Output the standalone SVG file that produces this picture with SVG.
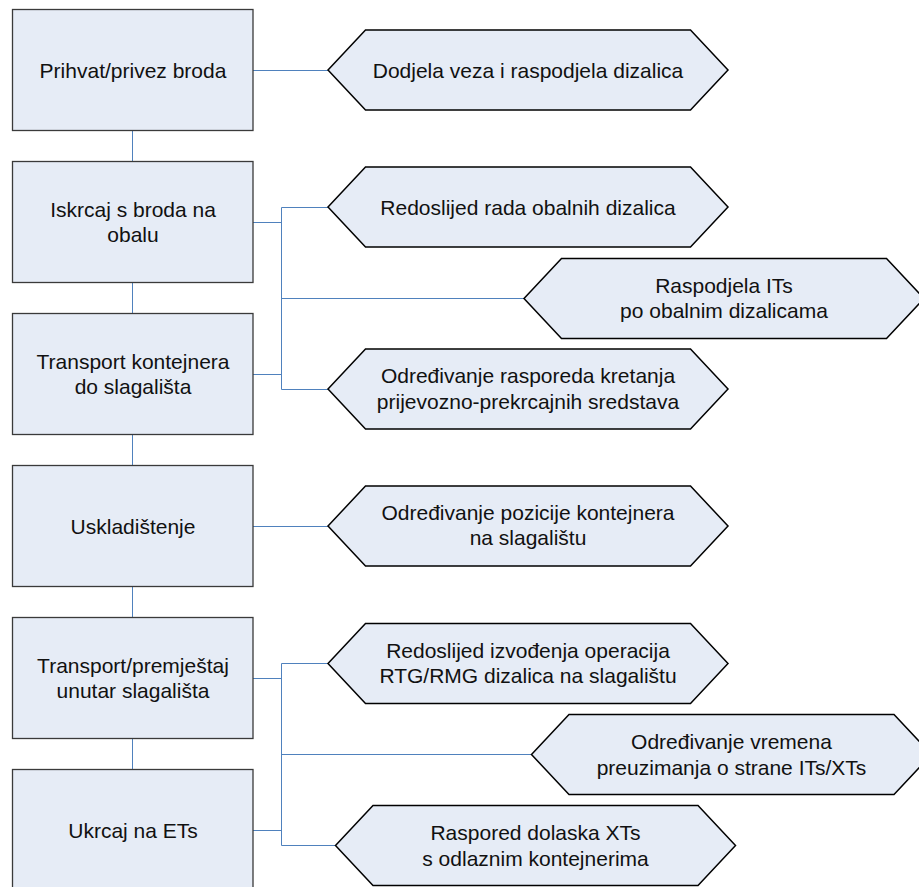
<svg xmlns="http://www.w3.org/2000/svg" xmlns:xlink="http://www.w3.org/1999/xlink" width="919" height="887" viewBox="0 0 919 887">
  <style>
    .box { fill: #E6ECF6; stroke: #3a3a3a; stroke-width: 1.3; }
    .hex { fill: #E6ECF6; stroke: #000000; stroke-width: 1.5; stroke-linejoin: miter; }
    .lbl { font-family: "Liberation Sans", Arial, sans-serif; font-size: 21px; fill: #111111; text-anchor: middle; }
    .conn { fill: none; stroke: #4F81BD; stroke-width: 1; }
  </style>
  <defs>
    <polygon id="hexShape" points="0,40 37.5,0 362.5,0 400,40 362.5,80 37.5,80"/>
  </defs>

  <!-- connectors -->
  <g id="connectors" class="conn">
    <path d="M253,70.5 H328"/>
    <path d="M132.5,131 V161.5 M132.5,283 V313.5 M132.5,435 V465.5 M132.5,587 V617.5 M132.5,739 V769.5"/>
    <path d="M253,222.5 H281.5 M253,374.5 H281.5 M281.5,207.5 V389.5 M281.5,207.5 H328 M281.5,298.5 H524 M281.5,389.5 H328"/>
    <path d="M253,526.5 H328"/>
    <path d="M253,678.5 H281.5 M253,830.5 H281.5 M281.5,663.5 V845.5 M281.5,663.5 H328 M281.5,754.5 H531.5 M281.5,845.5 H335.5"/>
  </g>

  <!-- process steps -->
  <g id="step1">
    <rect class="box" x="12.5" y="9.5" width="240.5" height="121"/>
    <text class="lbl" x="133" y="77.5">Prihvat/privez broda</text>
  </g>
  <g id="step2">
    <rect class="box" x="12.5" y="161.5" width="240.5" height="121"/>
    <text class="lbl" x="133" y="216.7">Iskrcaj s broda na</text>
    <text class="lbl" x="133" y="242.4">obalu</text>
  </g>
  <g id="step3">
    <rect class="box" x="12.5" y="313.5" width="240.5" height="121"/>
    <text class="lbl" x="133" y="368.7">Transport kontejnera</text>
    <text class="lbl" x="133" y="394.4">do slagališta</text>
  </g>
  <g id="step4">
    <rect class="box" x="12.5" y="465.5" width="240.5" height="121"/>
    <text class="lbl" x="133" y="533.5">Uskladištenje</text>
  </g>
  <g id="step5">
    <rect class="box" x="12.5" y="617.5" width="240.5" height="121"/>
    <text class="lbl" x="133" y="672.7">Transport/premještaj</text>
    <text class="lbl" x="133" y="698.4">unutar slagališta</text>
  </g>
  <g id="step6">
    <rect class="box" x="12.5" y="769.5" width="240.5" height="125"/>
    <text class="lbl" x="133" y="837.5">Ukrcaj na ETs</text>
  </g>

  <!-- planning tasks -->
  <g id="task1">
    <use xlink:href="#hexShape" class="hex" x="328" y="30"/>
    <text class="lbl" x="528" y="77.5">Dodjela veza i raspodjela dizalica</text>
  </g>
  <g id="task2">
    <use xlink:href="#hexShape" class="hex" x="328" y="167"/>
    <text class="lbl" x="528" y="214.5">Redoslijed rada obalnih dizalica</text>
  </g>
  <g id="task3">
    <use xlink:href="#hexShape" class="hex" x="524" y="258.5"/>
    <text class="lbl" x="724" y="292.7">Raspodjela ITs</text>
    <text class="lbl" x="724" y="318.4">po obalnim dizalicama</text>
  </g>
  <g id="task4">
    <use xlink:href="#hexShape" class="hex" x="328" y="349"/>
    <text class="lbl" x="528" y="383.2">Određivanje rasporeda kretanja</text>
    <text class="lbl" x="528" y="408.9">prijevozno-prekrcajnih sredstava</text>
  </g>
  <g id="task5">
    <use xlink:href="#hexShape" class="hex" x="328" y="486"/>
    <text class="lbl" x="528" y="519.5">Određivanje pozicije kontejnera</text>
    <text class="lbl" x="528" y="545.2">na slagalištu</text>
  </g>
  <g id="task6">
    <use xlink:href="#hexShape" class="hex" x="328" y="623.5"/>
    <text class="lbl" x="528" y="657.7">Redoslijed izvođenja operacija</text>
    <text class="lbl" x="528" y="683.4">RTG/RMG dizalica na slagalištu</text>
  </g>
  <g id="task7">
    <use xlink:href="#hexShape" class="hex" x="531.5" y="714.5"/>
    <text class="lbl" x="731.5" y="748.9">Određivanje vremena</text>
    <text class="lbl" x="731.5" y="774.6">preuzimanja o strane ITs/XTs</text>
  </g>
  <g id="task8">
    <use xlink:href="#hexShape" class="hex" x="335.5" y="805.5"/>
    <text class="lbl" x="535.5" y="840.2">Raspored dolaska XTs</text>
    <text class="lbl" x="535.5" y="865.9">s odlaznim kontejnerima</text>
  </g>
</svg>
